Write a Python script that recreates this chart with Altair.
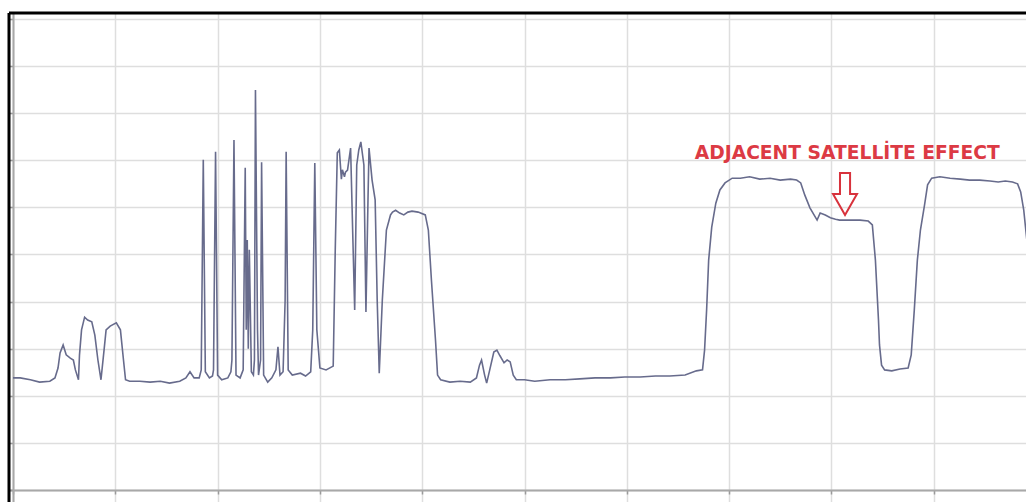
import altair as alt
import pandas as pd

# Trace: x in grid divisions (0..10), level in grid divisions (0..10)
freq = [
    0.00, 0.07, 0.17, 0.26, 0.36, 0.41, 0.44, 0.46, 0.49, 0.52, 0.56, 0.59, 0.61, 0.64,
    0.65, 0.67, 0.70, 0.73, 0.77, 0.80, 0.83, 0.86, 0.89, 0.91, 0.95, 1.01, 1.05, 1.08,
    1.10, 1.14, 1.24, 1.34, 1.44, 1.53, 1.63, 1.69, 1.73, 1.77, 1.82,
    1.84, 1.86, 1.88, 1.92, 1.95,
    1.96, 1.98, 2.00, 2.04, 2.10, 2.13,
    2.14, 2.16, 2.18, 2.22,
    2.25, 2.27, 2.28, 2.29, 2.30, 2.31, 2.33, 2.35,
    2.36, 2.37, 2.39, 2.40,
    2.42, 2.43, 2.45, 2.49, 2.53, 2.57, 2.59, 2.61, 2.64,
    2.66, 2.67, 2.69, 2.73, 2.81, 2.86, 2.91,
    2.93, 2.95, 2.97, 3.00, 3.06, 3.13,
    3.15, 3.17, 3.19, 3.21, 3.22, 3.24, 3.25, 3.27, 3.30, 3.32, 3.34, 3.36, 3.38, 3.40, 3.43, 3.45,
    3.47, 3.48, 3.51, 3.54, 3.56, 3.58, 3.61, 3.65, 3.69, 3.71, 3.74, 3.78, 3.82, 3.86,
    3.90, 3.96, 4.03, 4.06, 4.09, 4.13, 4.15, 4.18,
    4.27, 4.37, 4.47, 4.53, 4.56, 4.58, 4.61, 4.63, 4.66, 4.70, 4.73, 4.76, 4.80, 4.83,
    4.86, 4.89, 4.92, 5.00, 5.10, 5.25, 5.40, 5.54, 5.69, 5.84, 5.98, 6.13, 6.28, 6.42,
    6.57, 6.68, 6.74, 6.76, 6.78, 6.80, 6.83, 6.87, 6.91, 6.96, 7.03, 7.11, 7.20, 7.30,
    7.40, 7.50, 7.60, 7.66, 7.70, 7.74, 7.79, 7.83, 7.86, 7.89, 7.94, 7.99, 8.04, 8.08,
    8.18, 8.28, 8.36, 8.40, 8.43, 8.46, 8.47, 8.49, 8.52, 8.59, 8.67, 8.75, 8.78, 8.81,
    8.84, 8.87, 8.91, 8.94, 8.98, 9.06, 9.16, 9.26, 9.35, 9.45, 9.55, 9.63, 9.70, 9.77,
    9.82, 9.85, 9.88, 9.91, 9.94,
]
level = [
    2.38, 2.38, 2.34, 2.29, 2.31, 2.38, 2.59, 2.91, 3.08, 2.87, 2.80, 2.76, 2.55, 2.34,
    2.87, 3.40, 3.67, 3.61, 3.57, 3.29, 2.76, 2.34, 2.97, 3.40, 3.48, 3.55, 3.40, 2.76,
    2.34, 2.31, 2.31, 2.29, 2.31, 2.27, 2.31, 2.38, 2.51, 2.38, 2.38,
    2.55, 7.01, 2.51, 2.38, 2.42,
    2.55, 7.18, 2.44, 2.34, 2.38, 2.51,
    2.76, 7.43, 2.44, 2.38,
    2.55, 6.84, 3.40, 5.31, 3.00, 5.10, 2.51, 2.44,
    2.76, 8.49, 3.40, 2.44,
    2.76, 6.96, 2.44, 2.29, 2.38, 2.55, 3.04, 2.44, 2.51,
    4.03, 7.18, 2.55, 2.44, 2.48, 2.42, 2.51,
    3.40, 6.94, 3.40, 2.59, 2.55, 2.63,
    5.10, 7.16, 7.22, 6.60, 6.80, 6.65, 6.75, 6.79, 7.26, 5.52, 3.82, 6.90, 7.22, 7.39, 6.90, 3.78,
    6.16, 7.26, 6.58, 6.16, 4.03, 2.48, 4.03, 5.52, 5.84, 5.90, 5.94, 5.88, 5.84, 5.90,
    5.92, 5.90, 5.84, 5.52, 4.46, 3.18, 2.44, 2.34,
    2.29, 2.31, 2.29, 2.38, 2.65, 2.76, 2.44, 2.27, 2.55, 2.93, 2.97, 2.85, 2.70, 2.76,
    2.72, 2.44, 2.34, 2.34, 2.31, 2.34, 2.34, 2.36, 2.38, 2.38, 2.40, 2.40, 2.42, 2.42,
    2.44, 2.53, 2.55, 2.97, 3.82, 4.88, 5.58, 6.09, 6.37, 6.52, 6.62, 6.62, 6.65, 6.60,
    6.62, 6.58, 6.60, 6.58, 6.52, 6.26, 5.99, 5.84, 5.73, 5.88, 5.84, 5.78, 5.75, 5.73,
    5.73, 5.73, 5.71, 5.63, 4.88, 3.61, 3.08, 2.65, 2.55, 2.53, 2.57, 2.59, 2.87, 3.82,
    4.88, 5.52, 6.05, 6.48, 6.62, 6.65, 6.62, 6.60, 6.58, 6.58, 6.56, 6.54, 6.56, 6.54,
    6.50, 6.33, 5.94, 5.31, 4.03,
]

x_ticks = list(range(0, 10))
y_ticks = list(range(0, 11))

annotation_text = ["ADJACENT SATELLİTE EFFECT"]
annotation_x = [8.155]
annotation_y = [7.155]
arrow_x = [8.133]
arrow_y = [6.285]

trace = pd.DataFrame({"f": freq, "lvl": level, "i": list(range(len(freq)))})
note = pd.DataFrame({"t": annotation_text, "x": annotation_x, "y": annotation_y})
arrow = pd.DataFrame({"x": arrow_x, "y": arrow_y})

W, H = 1017, 489
xs = alt.Scale(domain=[-0.0391, 9.902], nice=False, zero=False)
ys = alt.Scale(domain=[-0.2548, 10.1274], nice=False, zero=False)

xaxis = alt.Axis(values=x_ticks, labels=False, title=None, grid=True, gridColor="#dedede",
                 gridWidth=1.5, domain=True, domainColor="#a8a8a8", domainWidth=2,
                 ticks=True, tickColor="#9a9a9a", tickSize=4, tickWidth=1.5, offset=-12)
yaxis = alt.Axis(values=y_ticks, labels=False, title=None, grid=True, gridColor="#dedede",
                 gridWidth=1.5, domain=True, domainColor="#a8a8a8", domainWidth=2,
                 ticks=True, tickColor="#9a9a9a", tickSize=4, tickWidth=1.5, offset=-4)

line = alt.Chart(trace).mark_line(color="#676b8c", strokeWidth=1.6, clip=True, interpolate="linear").encode(
    x=alt.X("f:Q", scale=xs, axis=xaxis),
    y=alt.Y("lvl:Q", scale=ys, axis=yaxis),
    order="i:Q",
)

text = alt.Chart(note).mark_text(color="#dc3a44", fontSize=18.7, fontWeight="bold",
                                 font="DejaVu Sans", align="center", baseline="middle").encode(
    x=alt.X("x:Q", scale=xs), y=alt.Y("y:Q", scale=ys), text="t:N"
)

arrow_path = "M -0.24 -1 L 0.24 -1 L 0.24 0 L 0.57 0 L 0 1 L -0.57 0 L -0.24 0 Z"
arr = alt.Chart(arrow).mark_point(shape=arrow_path, size=1764, filled=False,
                                  stroke="#d8323c", strokeWidth=2, opacity=1).encode(
    x=alt.X("x:Q", scale=xs), y=alt.Y("y:Q", scale=ys)
)

frame_left = alt.Chart().mark_rule(color="black", strokeWidth=3).encode(
    x=alt.value(0), y=alt.value(0), y2=alt.value(H))
frame_top = alt.Chart().mark_rule(color="black", strokeWidth=3).encode(
    x=alt.value(0), x2=alt.value(W), y=alt.value(0))

chart = alt.layer(line, text, arr, frame_left, frame_top).properties(
    width=W, height=H,
    padding={"left": 9, "top": 13, "right": 0, "bottom": 0},
    autosize=alt.AutoSizeParams(type="none"),
    background="white",
).configure_view(stroke=None)

chart.save("out.html", embed_options={"renderer": "svg", "actions": False})
